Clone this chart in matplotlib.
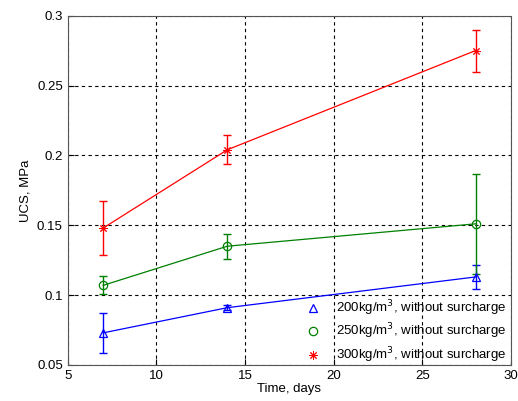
import numpy as np
import matplotlib
matplotlib.use('Agg')
import matplotlib.pyplot as plt

plt.rcParams['font.family'] = ['Liberation Sans', 'DejaVu Sans']

# Curing time (days)
days = [7, 14, 28]

# UCS means and error bar half-widths (MPa)
ucs_200 = [0.073, 0.091, 0.113]
err_200 = [0.0145, 0.002, 0.0085]
ucs_250 = [0.107, 0.135, 0.151]
err_250 = [0.0065, 0.009, 0.036]
ucs_300 = [0.148, 0.204, 0.275]
err_300 = [0.0195, 0.0105, 0.015]

labels = ['200kg/m$^3$, without surcharge',
          '250kg/m$^3$, without surcharge',
          '300kg/m$^3$, without surcharge']

fig = plt.figure(figsize=(5.18, 4.01), dpi=100)
ax = fig.add_axes([0.1307, 0.0898, 0.8558, 0.8712])

series = [(ucs_200, err_200, 'blue', '^', 6, 0.9),
          (ucs_250, err_250, 'green', 'o', 6, 0.9),
          (ucs_300, err_300, 'red', (8, 2, 0), 6, 0.7)]

handles = []
for (y, e, c, m, ms, mw), lab in zip(series, labels):
    ax.errorbar(days, y, yerr=e, color=c, lw=0.9, elinewidth=1.0, capsize=3,
                capthick=1.0, zorder=3)
    h, = ax.plot(days, y, linestyle='none', marker=m, ms=ms, mfc='none',
                 mec=c, mew=mw, zorder=4, label=lab)
    handles.append(h)

ax.set_xlim(5, 30)
ax.set_ylim(0.05, 0.3)
ax.set_xticks([5, 10, 15, 20, 25, 30])
ax.set_yticks([0.05, 0.1, 0.15, 0.2, 0.25, 0.3])
ax.set_yticklabels(['0.05', '0.1', '0.15', '0.2', '0.25', '0.3'])
ax.grid(True, color='black', linestyle=(0, (3, 3)), linewidth=0.8)
ax.set_axisbelow(True)
ax.tick_params(direction='in', labelsize=9.5, length=4)
for s in ax.spines.values():
    s.set_color('#555555')

ax.set_xlabel('Time, days', fontsize=9.5, labelpad=1)
ax.set_ylabel('UCS, MPa', fontsize=9.5, labelpad=4)

leg = ax.legend(handles=handles, loc='lower right', frameon=False, fontsize=9.5,
                handlelength=1.5, handletextpad=1.05, labelspacing=0.3,
                borderaxespad=0.0, borderpad=0.0,
                bbox_to_anchor=(0.991, 0.0))

fig.savefig('out.png', dpi=100)
